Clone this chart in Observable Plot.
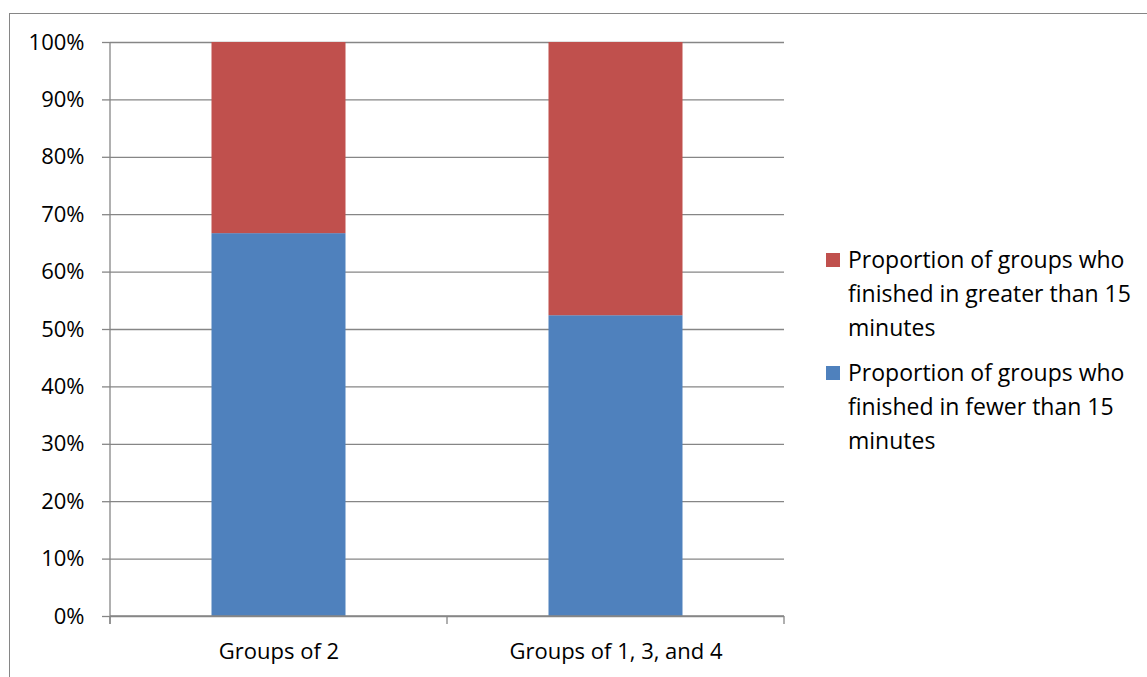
<!DOCTYPE html>
<html><head><meta charset="utf-8">
<script src="https://cdn.jsdelivr.net/npm/d3@7"></script>
<script src="https://cdn.jsdelivr.net/npm/@observablehq/plot@0.6"></script>
<style>
body{margin:0;background:#fff;font-family:"Open Sans",sans-serif;}
#wrap{position:relative;width:1147px;height:677px;overflow:hidden;background:#fff;}
#border{position:absolute;left:9px;top:13px;width:1300px;height:800px;border:1.5px solid #868686;box-sizing:border-box;}
#chart{position:absolute;left:0;top:0;}
#legend{position:absolute;left:826px;top:242px;font-size:23px;line-height:34px;color:#000;}
.item{position:relative;padding-left:22px;white-space:pre-line;margin-bottom:11px;}
.sw{position:absolute;left:0;top:11px;width:14px;height:14px;}
</style></head>
<body>
<div id="wrap"><div id="border"></div><div id="chart"></div><div id="legend"></div></div>
<script>
const categories = ["Groups of 2", "Groups of 1, 3, and 4"];
const seriesNames = [
  "Proportion of groups who\nfinished in fewer than 15\nminutes",
  "Proportion of groups who\nfinished in greater than 15\nminutes"
];
const fewerValues = [0.667, 0.524];
const greaterValues = [0.333, 0.476];
const seriesColors = ["#4F81BD", "#C0504D"];
const yTickValues = [0, 0.1, 0.2, 0.3, 0.4, 0.5, 0.6, 0.7, 0.8, 0.9, 1.0];

const rows = [];
categories.forEach((c, i) => {
  rows.push({category: c, series: seriesNames[0], value: fewerValues[i]});
  rows.push({category: c, series: seriesNames[1], value: greaterValues[i]});
});

const axisLines = (index, scales, values, dims) => {
  const x = scales.x, y = scales.y;
  const bw = x.bandwidth ? x.bandwidth() : (dims.width - dims.marginLeft - dims.marginRight) / categories.length;
  const xs = categories.map(c => x(c)).concat([x(categories[categories.length - 1]) + bw]);
  const y0 = y(0), y1 = y(1);
  const g = d3.create("svg:g").attr("stroke", "#868686").attr("stroke-width", 1.3).attr("fill", "none");
  g.append("line").attr("x1", xs[0]).attr("x2", xs[0]).attr("y1", y1).attr("y2", y0 + 8);
  g.append("line").attr("x1", xs[0]).attr("x2", xs[xs.length - 1]).attr("y1", y0).attr("y2", y0);
  for (const xx of xs) g.append("line").attr("x1", xx).attr("x2", xx).attr("y1", y0).attr("y2", y0 + 8);
  return g.node();
};

const chart = Plot.plot({
  width: 800,
  height: 677,
  marginLeft: 110,
  marginRight: 16,
  marginTop: 42,
  marginBottom: 61,
  style: {fontFamily: "'Open Sans', sans-serif", fontSize: "22px", color: "#000", background: "transparent"},
  x: {domain: categories, padding: 0, label: null},
  y: {domain: [0, 1], label: null},
  color: {domain: seriesNames, range: seriesColors},
  marks: [
    Plot.gridY(yTickValues, {stroke: "#868686", strokeOpacity: 1, strokeWidth: 1.3}),
    Plot.barY(rows, {x: "category", y: "value", fill: "series", insetLeft: 101.5, insetRight: 101.5}),
    Plot.axisY(yTickValues, {tickSize: 8, tickPadding: 18, stroke: "#868686", strokeWidth: 1.3, tickFormat: d3.format(".0%"), fontSize: 22, label: null}),
    Plot.axisX({tickSize: 0, tickPadding: 27, fontSize: 22, label: null}),
    axisLines
  ]
});
document.getElementById("chart").appendChild(chart);

const legend = document.getElementById("legend");
[1, 0].forEach(i => {
  const item = document.createElement("div");
  item.className = "item";
  const sw = document.createElement("span");
  sw.className = "sw";
  sw.style.background = seriesColors[i];
  item.appendChild(sw);
  item.appendChild(document.createTextNode(seriesNames[i]));
  legend.appendChild(item);
});
</script>
</body></html>
